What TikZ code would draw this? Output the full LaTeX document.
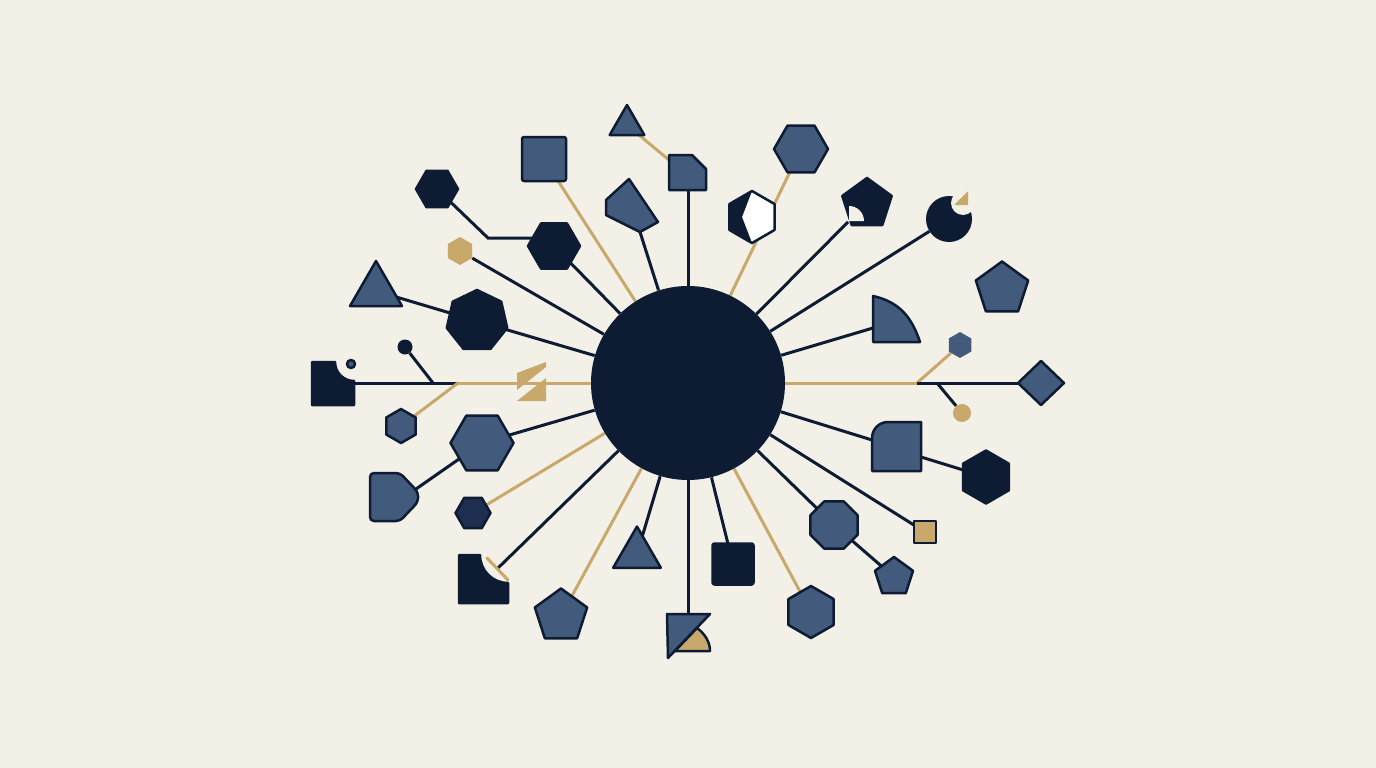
\documentclass[tikz,border=0pt]{standalone}
\usepackage{tikz}
\usetikzlibrary{shapes.geometric}
\usetikzlibrary{calc}
\definecolor{paper}{HTML}{F3F0E8}
\definecolor{navy}{HTML}{0D1C33}
\definecolor{slate}{HTML}{425A7B}
\definecolor{gold}{HTML}{C8A96B}
\definecolor{inkblue}{HTML}{1D2E50}
\pgfdeclarelayer{paperlayer}
\pgfdeclarelayer{links}
\pgfsetlayers{paperlayer,links,main}

\begin{document}
\begin{tikzpicture}[x=1pt,y=-1pt,
  shp/.style={draw=navy,line width=2.5pt,line join=round,inner sep=0pt,outer sep=0pt},
  slate/.style={shp,fill=slate},
  dark/.style={shp,fill=navy},
  ngon/.style={regular polygon,regular polygon sides=#1},
  nline/.style={navy,line width=3pt},
  gline/.style={gold,line width=3pt}]
\begin{pgfonlayer}{paperlayer}
\fill[paper] (0,0) rectangle (1376,768);
\end{pgfonlayer}
\useasboundingbox (0,0) rectangle (1376,768);

\node (hub) at (688,383) [circle,fill=navy,inner sep=0pt,minimum size=194pt] {};

% upper left
\node (hexa) at (437,189) [dark,ngon=6,minimum size=42pt] {};
\node (hexb) at (554,246) [dark,ngon=6,minimum size=52pt] {};
\coordinate (bend) at (488,238);
\node (hexg) at (460,251) [ngon=6,shape border rotate=30,fill=gold,inner sep=0pt,minimum size=28pt] {};
\node (tril) at (376,291) [slate,ngon=3,minimum size=60pt] {};
\node (hepd) at (477,321) [dark,ngon=7,minimum size=62pt] {};
\node (sqa) at (544,159) [slate,rectangle,minimum size=44pt,rounded corners=2pt] {};
\node (trit) at (627,125) [slate,ngon=3,minimum size=40pt] {};
\draw[slate] (669,155) -- (692,155) -- (706,169) -- (706,190) -- (669,190) -- cycle;
\coordinate (cutw) at (669,160);
\coordinate (cuts) at (688,190);
\draw[slate] (629,179) -- (606,200) -- (606,215) -- (640,232) -- (658,222) -- cycle;
\coordinate (pentt) at (640,232);

% upper right
\node (hexs) at (801,149) [slate,ngon=6,minimum size=54pt] {};
\node (hexw) at (752,217) [shp,fill=white,ngon=6,shape border rotate=30,minimum size=52pt] {};
\fill[navy] ($(hexw)+(0,-26)$) -- ($(hexw)+(-22.5,-13)$) -- ($(hexw)+(-22.5,13)$) -- ($(hexw)+(0,26)$) -- ($(hexw)+(-10,0)$) -- cycle;
\node (pentd) at (867,204) [dark,ngon=5,minimum size=52pt] {};
\fill[paper] (849,221) -- ++(15pt,0) arc[start angle=0,end angle=90,radius=15pt] -- cycle;
\coordinate (pentc) at (848,222);
\node (moon) at (949,219) [circle,fill=navy,inner sep=0pt,minimum size=46pt] {};
\fill[paper] (963,203) circle[radius=12pt];
\fill[gold,rounded corners=1pt] (968,191) -- (968,205) -- (954,205) -- cycle;
\node (pentr) at (1002,289) [slate,ngon=5,minimum size=55pt] {};
\draw[slate] (873,296) -- (873,342) -- (920,342) .. controls (912,318) and (900,302) .. (873,296) -- cycle;
\coordinate (quarw) at (873,328);
\node (hexsm) at (960,345) [ngon=6,shape border rotate=30,fill=slate,inner sep=0pt,minimum size=26pt] {};
\coordinate (jr) at (917,383);
\coordinate (jrd) at (937,383);
\node (dia) at (1041,383) [slate,diamond,minimum width=46pt,minimum height=44pt] {};
\node (dotg) at (962,413) [circle,fill=gold,inner sep=0pt,minimum size=18pt] {};

% lower right
\draw[slate] (872,471) -- (872,438) arc[start angle=180,end angle=90,radius=16pt] -- (921,422) -- (921,471) -- cycle;
\coordinate (rsqw) at (872,440);
\coordinate (rsqe) at (921,457);
\node (hexr) at (986,477) [dark,ngon=6,shape border rotate=30,minimum size=53pt] {};
\node (sqg) at (925,532) [shp,fill=gold,rectangle,minimum size=22pt] {};
\node (octs) at (834,525) [slate,ngon=8,minimum size=51pt] {};
\node (pents) at (894,577) [slate,ngon=5,minimum size=40pt] {};
\node (sqd) at (733,564) [dark,rectangle,minimum size=41pt,rounded corners=2pt] {};
\node (hexbr) at (811,612) [slate,ngon=6,shape border rotate=30,minimum size=52pt] {};

% bottom
\draw[slate] (667,614) -- (710,614) -- (668,658) -- cycle;
\draw[shp,fill=gold] (675,651) -- (697,628) .. controls (705,634) and (710,642) .. (710,651) -- cycle;
\coordinate (trib) at (688,614);

% lower left
\node (tris) at (637,554) [slate,ngon=3,minimum size=55pt] {};
\node (pentb) at (561,616) [slate,ngon=5,minimum size=55pt] {};
\draw[dark] (459,555) -- (480,555) arc[start angle=180,end angle=270,radius=28pt] -- (508,603) -- (459,603) -- cycle;
\draw[gline,line cap=round] (487,558) -- (508,580);
\coordinate (barm) at (497,569);
\node (hexk) at (473,513) [shp,fill=inkblue,ngon=6,minimum size=35pt] {};
\node (hexl) at (482,443) [slate,ngon=6,minimum size=63pt] {};
\draw[slate,rounded corners=4pt] (370,473) -- (400,473) -- (418,492) -- (418,502) -- (400,521) -- (370,521) -- cycle;
\coordinate (housee) at (416,489);
\node (hexls) at (401,426) [slate,ngon=6,shape border rotate=30,minimum size=34pt] {};

% left
\draw[dark] (312,362) -- (335,362) arc[start angle=180,end angle=270,radius=19pt] -- (354,405) -- (312,405) -- cycle;
\fill[slate] (351,364) circle[radius=4pt];
\coordinate (sqle) at (354,383);
\coordinate (jl) at (458,383);
\coordinate (jld) at (433,383);
\node (dotn) at (405,347) [circle,fill=navy,inner sep=0pt,minimum size=15pt] {};
\fill[gold] (517,373) -- (546,362) -- (546,367) -- (517,390) -- cycle;
\fill[gold] (546,378) -- (546,401) -- (517,401) -- cycle;

\begin{pgfonlayer}{links}
\foreach \n in {hexb,hepd,hexg,pentt,cuts,pentc,moon,quarw,rsqw,sqg,octs,sqd,trib,tris,barm,hexl}
  \draw[nline] (hub) -- (\n);
\foreach \n in {sqa,hexs,jr,hexbr,pentb,hexk,jl}
  \draw[gline] (hub) -- (\n);
\draw[nline] (hexa) -- (bend) -- (bend -| hexb);
\draw[gline] (trit) -- (cutw);
\draw[nline] (tril) -- (hepd);
\draw[nline] (sqle) -- (jl);
\draw[nline] (dotn) -- (jld);
\draw[gline] (jl) -- (hexls);
\draw[gline] (hexsm) -- (jr);
\draw[nline] (jr) -- (dia);
\draw[nline] (jrd) -- (dotg);
\draw[nline] (rsqe) -- (hexr);
\draw[nline] (octs) -- (pents);
\draw[nline] (hexl) -- (housee);
\end{pgfonlayer}
\end{tikzpicture}
\end{document}
